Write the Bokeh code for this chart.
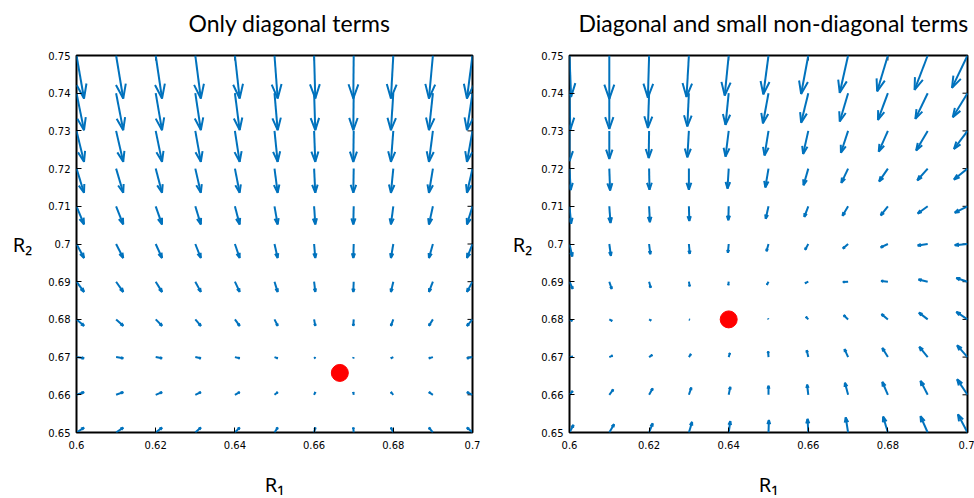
import numpy as np
from bokeh.plotting import figure
from bokeh.layouts import row
from bokeh.models import Range1d, FixedTicker, Title
from bokeh.embed import file_html
from bokeh.resources import INLINE

# ---------------- data ----------------
R1_grid = [0.60, 0.61, 0.62, 0.63, 0.64, 0.65, 0.66, 0.67, 0.68, 0.69, 0.70]
R2_grid = [0.65, 0.66, 0.67, 0.68, 0.69, 0.70, 0.71, 0.72, 0.73, 0.74, 0.75]

R1_ticks = [0.60, 0.62, 0.64, 0.66, 0.68, 0.70]
R1_tick_labels = ["0.6", "0.62", "0.64", "0.66", "0.68", "0.7"]
R2_ticks = [0.65, 0.66, 0.67, 0.68, 0.69, 0.70, 0.71, 0.72, 0.73, 0.74, 0.75]
R2_tick_labels = ["0.65", "0.66", "0.67", "0.68", "0.69", "0.7",
                  "0.71", "0.72", "0.73", "0.74", "0.75"]

ARROW_UNIT = 1e-4  # arrow components below are in units of 1e-4

# left panel: only diagonal terms -> dR1 depends on R1 only, dR2 on R2 only
left_dR1_by_col = [19, 18, 16, 14, 12, 8, 3, -1, -6, -10, -14]
left_dR2_by_row = [13, 7, -3, -17, -27, -37, -48, -64, -82, -98, -114]
left_fixed = (0.6665, 0.6658)

# right panel: rows from R2 = 0.65 (first) to 0.75 (last), columns R1 = 0.60..0.70
right_dR1 = [
    [10, 12, 9, 8, 4, 1, -2, -6, -12, -18, -24],
    [8, 10, 9, 6, 4, 0, -3, -8, -14, -18, -26],
    [8, 8, 8, 5, 3, -1, -4, -9, -14, -21, -26],
    [7, 7, 5, 2, 0, -1, -6, -11, -16, -22, -28],
    [8, 6, 4, 2, -1, -4, -8, -13, -17, -23, -28],
    [7, 4, 3, 2, -2, -5, -8, -13, -18, -25, -32],
    [4, 3, 2, 1, -1, -7, -10, -14, -18, -25, -32],
    [3, 2, 1, 0, -3, -8, -12, -17, -22, -26, -34],
    [0, 0, -1, -4, -8, -10, -13, -18, -23, -29, -34],
    [2, 0, -3, -4, -8, -14, -18, -21, -25, -31, -37],
    [4, 0, -3, -6, -10, -13, -18, -21, -27, -33, -39],
]
right_dR2 = [
    [20, 22, 24, 28, 30, 33, 36, 40, 42, 43, 48],
    [10, 14, 17, 19, 21, 24, 27, 32, 34, 37, 41],
    [1, 4, 6, 8, 11, 15, 18, 21, 24, 27, 31],
    [-4, -4, -3, -1, 0, 2, 7, 11, 14, 18, 20],
    [-19, -19, -16, -12, -9, -8, -4, -1, 2, 6, 10],
    [-33, -31, -27, -26, -23, -19, -15, -12, -9, -4, -3],
    [-46, -44, -42, -39, -37, -33, -28, -25, -24, -19, -17],
    [-57, -58, -56, -56, -53, -50, -44, -38, -34, -31, -29],
    [-80, -74, -72, -70, -68, -65, -61, -58, -55, -52, -48],
    [-97, -95, -92, -88, -84, -80, -78, -75, -71, -68, -64],
    [-110, -115, -112, -110, -106, -103, -102, -99, -95, -91, -86],
]
right_fixed = (0.64, 0.68)

titles = ["Only diagonal terms", "Diagonal and small non-diagonal terms"]
x_label = "R\u2081"
y_label = "R\u2082"

ARROW_COLOR = "#0072BD"


def quiver_segments(U, V):
    X, Y = np.meshgrid(np.array(R1_grid), np.array(R2_grid))
    U = np.asarray(U, float) * ARROW_UNIT
    V = np.asarray(V, float) * ARROW_UNIT
    alpha, beta = 0.33, 0.33
    xs, ys = [], []
    for x, y, u, v in zip(X.ravel(), Y.ravel(), U.ravel(), V.ravel()):
        tx, ty = x + u, y + v
        xs.append([x, tx])
        ys.append([y, ty])
        h1x = tx - alpha * (u + beta * v)
        h1y = ty - alpha * (v - beta * u)
        h2x = tx - alpha * (u - beta * v)
        h2y = ty - alpha * (v + beta * u)
        xs.append([h1x, tx, h2x])
        ys.append([h1y, ty, h2y])
    return xs, ys


def style_axis(ax, ticks, labels, standoff):
    ax.ticker = FixedTicker(ticks=ticks)
    ax.major_label_overrides = {t: l for t, l in zip(ticks, labels)}
    ax.minor_tick_line_color = None
    ax.major_tick_in = 5
    ax.major_tick_out = 0
    ax.major_tick_line_color = "black"
    ax.major_tick_line_width = 1
    ax.axis_line_color = None
    ax.major_label_text_font = "DejaVu Sans"
    ax.major_label_text_font_size = "10px"
    ax.major_label_text_color = "black"
    ax.major_label_standoff = standoff


def make_panel(U, V, fixed, title, border_left, border_right, frame_w,
               title_offset, ylabel_standoff):
    p = figure(frame_width=frame_w, frame_height=377,
               x_range=Range1d(0.6, 0.7), y_range=Range1d(0.65, 0.75),
               output_backend="svg", toolbar_location=None,
               min_border_left=border_left, min_border_right=border_right,
               min_border_top=55, min_border_bottom=66)
    p.grid.visible = False
    p.outline_line_color = "black"
    p.outline_line_width = 2
    p.background_fill_color = "white"
    p.border_fill_color = "white"

    xa, ya = p.xaxis[0], p.yaxis[0]
    style_axis(xa, R1_ticks, R1_tick_labels, 8)
    style_axis(ya, R2_ticks, R2_tick_labels, 6)
    xa.axis_label = x_label
    xa.axis_label_text_font = "Noto Sans"
    xa.axis_label_text_font_size = "20px"
    xa.axis_label_text_font_style = "normal"
    xa.axis_label_text_color = "black"
    xa.axis_label_standoff = 19
    ya.axis_label = y_label
    ya.axis_label_text_font = "Noto Sans"
    ya.axis_label_text_font_size = "20px"
    ya.axis_label_text_font_style = "normal"
    ya.axis_label_text_color = "black"
    ya.axis_label_standoff = ylabel_standoff
    ya.axis_label_orientation = "horizontal"
    ya.axis_label_text_baseline = "alphabetic"

    # inner tick marks on the top and right edges of the box
    p.ray(x=R1_ticks, y=[0.75] * len(R1_ticks), length=5, length_units="screen",
          angle=-np.pi / 2, line_color="black", line_width=1)
    p.ray(x=[0.7] * len(R2_ticks), y=R2_ticks, length=5, length_units="screen",
          angle=np.pi, line_color="black", line_width=1)

    # titles: a thin spacer next to the frame, then the real title
    p.add_layout(Title(text="\u00a0", text_font="Lato", text_font_size="10px",
                       standoff=3), "above")
    p.add_layout(Title(text=title, text_font="Lato", text_font_size="23px",
                       text_font_style="normal", text_color="black",
                       align="left", offset=title_offset, standoff=4), "above")

    xs, ys = quiver_segments(U, V)
    p.multi_line(xs, ys, line_color=ARROW_COLOR, line_width=2)
    p.scatter([fixed[0]], [fixed[1]], size=17, color="red", marker="circle")
    return p


U_left = [[left_dR1_by_col[j] for j in range(len(R1_grid))] for i in range(len(R2_grid))]
V_left = [[left_dR2_by_row[i] for j in range(len(R1_grid))] for i in range(len(R2_grid))]

p1 = make_panel(U_left, V_left, left_fixed, titles[0], 76, 26, 396, 112, 13)
p2 = make_panel(right_dR1, right_dR2, right_fixed, titles[1], 71, 7, 398, 9, 6)

layout = row(p1, p2, spacing=0)
open("out.html", "w").write(file_html(layout, INLINE))
